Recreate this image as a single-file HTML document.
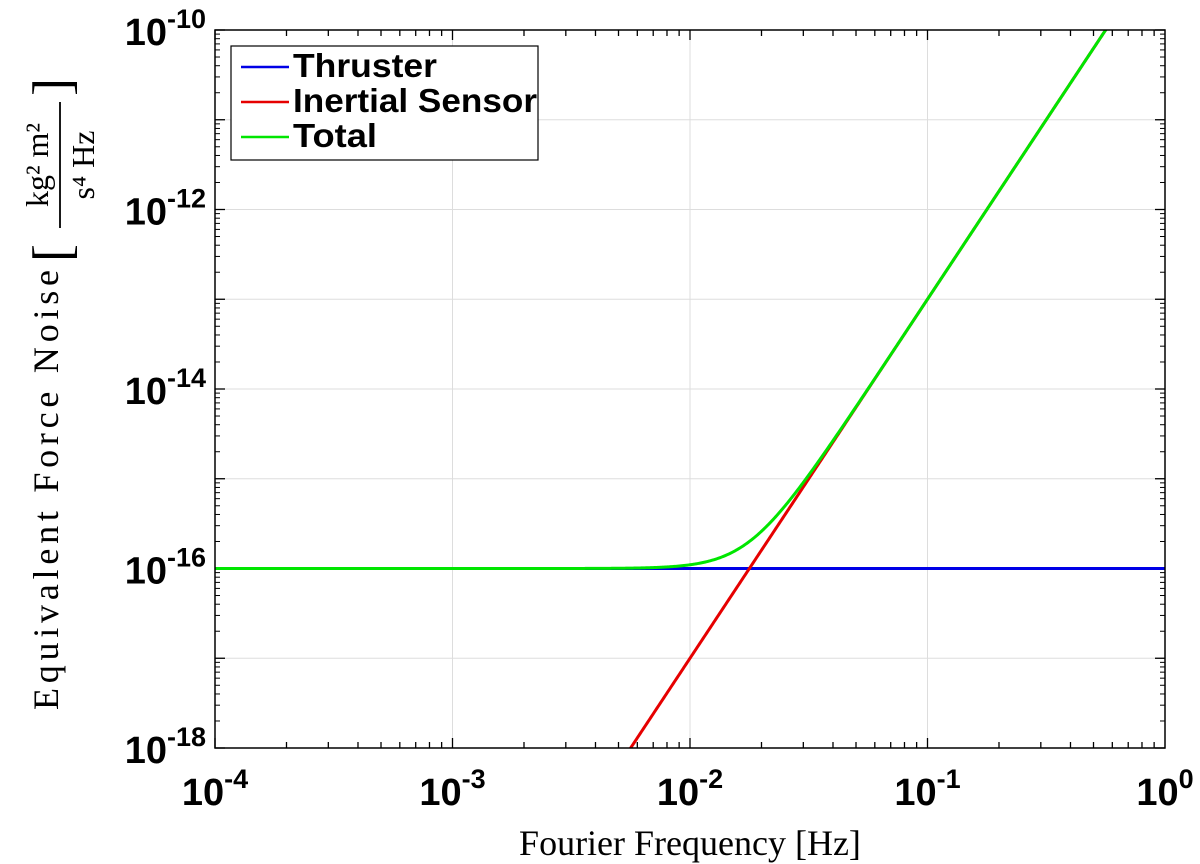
<!DOCTYPE html>
<html><head><meta charset="utf-8"><style>
html,body{margin:0;padding:0;background:#fff;overflow:hidden;width:1200px;height:864px;}
svg{display:block;}
svg text{font-family:"Liberation Sans",sans-serif;}
</style></head><body>
<svg id="chart" width="1200" height="864" xmlns="http://www.w3.org/2000/svg">
<g id="grid"></g><g id="ticks"></g><g id="series"></g><g id="labels"></g>
<rect x="215" y="30" width="950" height="718" fill="none" stroke="#000" stroke-width="1.5"/>
<g>
<rect x="231" y="46" width="307" height="114" fill="#fff" stroke="#000" stroke-width="1.2"/>
<line x1="241" y1="67" x2="289" y2="67" stroke="#0000e6" stroke-width="2.5"/>
<text x="293" y="77" font-size="33" font-weight="bold" textLength="144" lengthAdjust="spacingAndGlyphs">Thruster</text>
<line x1="241" y1="102" x2="289" y2="102" stroke="#e60000" stroke-width="2.5"/>
<text x="293" y="112" font-size="33" font-weight="bold" textLength="244" lengthAdjust="spacingAndGlyphs">Inertial Sensor</text>
<line x1="241" y1="137" x2="289" y2="137" stroke="#00e600" stroke-width="2.5"/>
<text x="293" y="147" font-size="33" font-weight="bold" textLength="84" lengthAdjust="spacingAndGlyphs">Total</text>
</g>
<text x="690" y="855" font-size="36" text-anchor="middle" style="font-family:'Liberation Serif',serif">Fourier Frequency [Hz]</text>
<g transform="translate(58,490) rotate(-90)">
<text x="0" y="0" font-size="36" text-anchor="middle" textLength="440" style="font-family:'Liberation Serif',serif">Equivalent Force Noise</text>
<text x="228" y="12" font-size="54" style="font-family:'Liberation Serif',serif">[</text>
<text x="325" y="-10" font-size="32" text-anchor="middle" style="font-family:'Liberation Serif',serif">kg² m²</text>
<line x1="262" y1="2" x2="388" y2="2" stroke="#000" stroke-width="1.8"/>
<text x="325" y="36" font-size="32" text-anchor="middle" style="font-family:'Liberation Serif',serif">s⁴ Hz</text>
<text x="394" y="12" font-size="54" style="font-family:'Liberation Serif',serif">]</text>
</g>
</svg>
<script>
const xDecades=[-4,-3,-2,-1,0];
const yDecades=[-18,-17,-16,-15,-14,-13,-12,-11,-10];
const yLabelDecades=[-18,-16,-14,-12,-10];
const thrusterLevel=1e-16;
const inertialRef=1e-13, inertialRefFreq=0.1, inertialSlope=4;
const X0=215,X1=1165,Y0=748,Y1=30;
const xs=lf=>X0+(lf+4)/4*(X1-X0);
const ys=lv=>Y0-(lv+18)/8*(Y0-Y1);
const NS="http://www.w3.org/2000/svg";
function mk(p,t,a){const e=document.createElementNS(NS,t);for(const k in a)e.setAttribute(k,a[k]);document.getElementById(p).appendChild(e);return e;}
xDecades.forEach(d=>{
 const x=xs(d);
 const g=mk('grid','line',{x1:x,x2:x,y1:Y1,y2:Y0,stroke:'#ddd','stroke-width':1});
 
 
 const t=mk('labels','text',{x:x,y:805,'font-size':38,'font-weight':'bold','text-anchor':'middle'});
 
 
 t.innerHTML='10<tspan dy="-17" font-size="27">'+d+'</tspan>';
 if(d<0){for(let m=1;m<=9;m++){const xm=xs(d+Math.log10(m));
  mk('ticks','line',{x1:xm,x2:xm,y1:Y0,y2:Y0-(m==1?10:6),stroke:'#000','stroke-width':1.3});
  mk('ticks','line',{x1:xm,x2:xm,y1:Y1,y2:Y1+(m==1?10:6),stroke:'#000','stroke-width':1.3});}}
});
yDecades.forEach(d=>{
 const y=ys(d);
 const g=mk('grid','line',{x1:X0,x2:X1,y1:y,y2:y,stroke:'#ddd','stroke-width':1});
 
 
 mk('ticks','line',{x1:X0,x2:X0+10,y1:y,y2:y,stroke:'#000','stroke-width':1.3});
 mk('ticks','line',{x1:X1,x2:X1-10,y1:y,y2:y,stroke:'#000','stroke-width':1.3});
 if(d<-10){for(let m=2;m<=9;m++){const yl=ys(d+Math.log10(m));
  mk('ticks','line',{x1:X0,x2:X0+5,y1:yl,y2:yl,stroke:'#000','stroke-width':1});
  mk('ticks','line',{x1:X1,x2:X1-5,y1:yl,y2:yl,stroke:'#000','stroke-width':1});}}
});
yLabelDecades.forEach(d=>{
 const t=mk('labels','text',{x:206,y:ys(d)+15,'font-size':38,'font-weight':'bold','text-anchor':'end'});
 
 
 t.innerHTML='10<tspan dy="-17" font-size="27">'+d+'</tspan>';
});
function curve(fn){const pts=[];for(let i=0;i<=800;i++){const lf=-4+4*i/800;const v=fn(Math.pow(10,lf));pts.push(xs(lf).toFixed(2)+','+ys(Math.log10(v)).toFixed(2));}return pts.join(' ');}
const thr=f=>thrusterLevel;
const ine=f=>inertialRef*Math.pow(f/inertialRefFreq,inertialSlope);
const tot=f=>thr(f)+ine(f);
const cp=mk('series','clipPath',{id:'clip'});
const cr=document.createElementNS(NS,'rect');
cr.setAttribute('x',X0);cr.setAttribute('y',Y1);cr.setAttribute('width',X1-X0);cr.setAttribute('height',Y0-Y1);
cp.appendChild(cr);
[[thr,'#0000e6','thruster-line'],[ine,'#e60000','inertial-sensor-line'],[tot,'#00e600','total-line']].forEach(([fn,c,n])=>{
 const p=mk('series','polyline',{points:curve(fn),fill:'none',stroke:c,'stroke-width':3,'clip-path':'url(#clip)'});
 
 
});
</script>
</body></html>
